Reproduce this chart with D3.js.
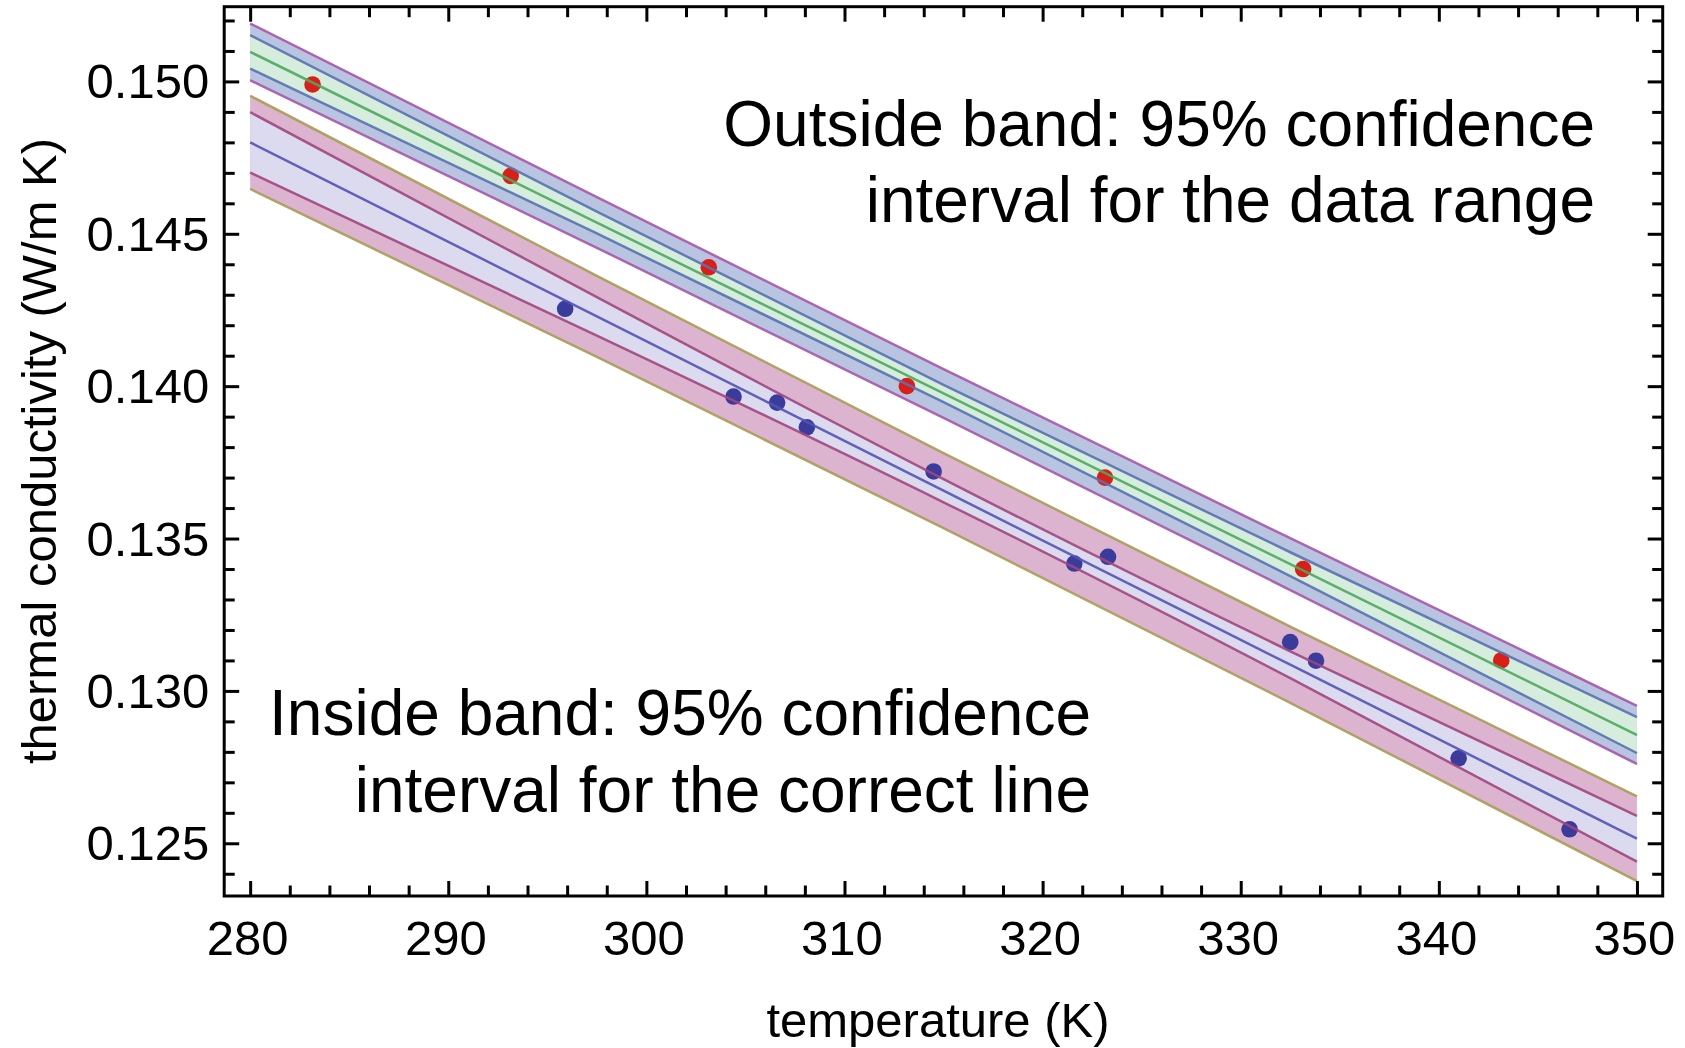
<!DOCTYPE html>
<html>
<head>
<meta charset="utf-8">
<script src="https://cdn.jsdelivr.net/npm/d3@7"></script>
<style>
  html, body { margin: 0; padding: 0; background: #fff; }
  svg { display: block; }
  text { font-family: "Liberation Sans", Arial, Helvetica, sans-serif; fill: #000; }
</style>
</head>
<body>
<svg id="chart" width="1685" height="1048"></svg>
<script>
// Measured thermal conductivity, dataset drawn in red (K, W/m K)
const redTemps = [283.15, 293.15, 303.15, 313.15, 323.15, 333.15, 343.15];
const redK     = [0.1499, 0.1469, 0.1439, 0.1400, 0.1370, 0.1340, 0.1310];

// Measured thermal conductivity, dataset drawn in blue
const blueTemps = [295.9, 304.4, 306.6, 308.1, 314.5, 321.6, 323.3, 332.5, 333.8, 341.0, 346.6];
const blueK     = [0.14254, 0.13966, 0.13946, 0.13865, 0.13720, 0.13418, 0.13440, 0.13160, 0.13099, 0.12779, 0.12546];

// Temperatures at which the fitted lines and bands are sampled
const bandTemps = [280, 297.5, 315, 332.5, 350];

// Red fit with its mean-confidence band and prediction band
const redFit    = [0.15097, 0.14537, 0.13976, 0.13416, 0.12855];
const redConfHi = [0.15152, 0.14573, 0.14004, 0.13455, 0.12914];
const redConfLo = [0.15042, 0.14501, 0.13948, 0.13377, 0.12796];
const redPredHi = [0.15190, 0.14620, 0.14056, 0.13501, 0.12951];
const redPredLo = [0.15004, 0.14454, 0.13896, 0.13331, 0.12760];

// Blue fit with its mean-confidence band and prediction band
const blueFit    = [0.14800, 0.14229, 0.13657, 0.13086, 0.12515];
const blueConfHi = [0.14899, 0.14292, 0.13695, 0.13130, 0.12590];
const blueConfLo = [0.14701, 0.14166, 0.13619, 0.13042, 0.12440];
const bluePredHi = [0.14953, 0.14362, 0.13780, 0.13211, 0.12654];
const bluePredLo = [0.14647, 0.14096, 0.13534, 0.12961, 0.12376];

// Axis ticks
const xMajorTicks = [280, 290, 300, 310, 320, 330, 340, 350];
const yMajorTicks = [0.125, 0.130, 0.135, 0.140, 0.145, 0.150];

const xTitle = "temperature (K)";
const yTitle = "thermal conductivity (W/m K)";
const outsideNote = ["Outside band: 95% confidence", "interval for the data range"];
const insideNote  = ["Inside band: 95% confidence", "interval for the correct line"];

// ---- layout ----
const frame = { left: 224.2, right: 1662.7, top: 6.7, bottom: 896 };
const svg = d3.select("#chart");

const x = d3.scaleLinear().domain([278.69, 351.30]).range([frame.left, frame.right]);
const y = d3.scaleLinear().domain([0.12327, 0.152452]).range([frame.bottom, frame.top]);

const xMinorTicks = d3.range(280, 351, 2).filter(t => !xMajorTicks.includes(t));
const yMinorTicks = d3.range(124, 153).map(v => v / 1000)
  .filter(v => !yMajorTicks.some(m => Math.abs(m - v) < 1e-9));

const plot = svg.append("g");
const clip = svg.append("clipPath").attr("id", "plotClip")
  .append("rect")
  .attr("x", frame.left).attr("y", frame.top)
  .attr("width", frame.right - frame.left).attr("height", frame.bottom - frame.top);
plot.attr("clip-path", "url(#plotClip)");

function band(hi, lo, fill) {
  const rows = bandTemps.map((t, i) => ({ t, hi: hi[i], lo: lo[i] }));
  plot.append("path")
    .datum(rows)
    .attr("fill", fill)
    .attr("d", d3.area()
      .curve(d3.curveNatural)
      .x(d => x(d.t)).y0(d => y(d.lo)).y1(d => y(d.hi)));
}

function line(vals, color, layer) {
  const rows = bandTemps.map((t, i) => ({ t, v: vals[i] }));
  layer.append("path")
    .datum(rows)
    .attr("fill", "none")
    .attr("stroke", color)
    .attr("stroke-width", 2.5)
    .attr("stroke-opacity", 0.9)
    .attr("d", d3.line().curve(d3.curveNatural).x(d => x(d.t)).y(d => y(d.v)));
}

// band fills
band(redPredHi, redPredLo, "#b9c4e1");
band(redConfHi, redConfLo, "#d6ecdc");
band(bluePredHi, bluePredLo, "#dcb4d0");
band(blueConfHi, blueConfLo, "#dbdaee");

// data points
plot.append("g").selectAll("circle")
  .data(redTemps.map((t, i) => [t, redK[i]]))
  .join("circle")
  .attr("cx", d => x(d[0])).attr("cy", d => y(d[1]))
  .attr("r", 8.3).attr("fill", "#d91f1a");

plot.append("g").selectAll("circle")
  .data(blueTemps.map((t, i) => [t, blueK[i]]))
  .join("circle")
  .attr("cx", d => x(d[0])).attr("cy", d => y(d[1]))
  .attr("r", 8.3).attr("fill", "#3b3b9c");

// band edges and fitted lines, drawn over the points
const lines = plot.append("g");
line(redPredHi, "#a657a8", lines);
line(redPredLo, "#a657a8", lines);
line(redConfHi, "#5872b0", lines);
line(redConfLo, "#5872b0", lines);
line(redFit, "#4da85e", lines);
line(bluePredHi, "#a89b55", lines);
line(bluePredLo, "#a89b55", lines);
line(blueConfHi, "#a0467f", lines);
line(blueConfLo, "#a0467f", lines);
line(blueFit, "#5353b3", lines);

// ---- frame ticks (pointing inward on all four sides) ----
const MAJOR = 15, MINOR = 10.5;
function ticks(axisFn, scale, values, size, transform, labels) {
  const g = svg.append("g").attr("transform", transform)
    .call(axisFn(scale).tickValues(values).tickSize(-size).tickSizeOuter(0)
      .tickFormat(labels ? labels : () => ""));
  g.select(".domain").remove();
  g.selectAll(".tick line").attr("stroke", "#000").attr("stroke-width", 3);
  return g;
}

ticks(d3.axisBottom, x, xMinorTicks, MINOR, `translate(0,${frame.bottom})`);
ticks(d3.axisTop, x, xMinorTicks, MINOR, `translate(0,${frame.top})`);
ticks(d3.axisTop, x, xMajorTicks, MAJOR, `translate(0,${frame.top})`);
ticks(d3.axisLeft, y, yMinorTicks, MINOR, `translate(${frame.left},0)`);
ticks(d3.axisRight, y, yMinorTicks, MINOR, `translate(${frame.right},0)`);
ticks(d3.axisRight, y, yMajorTicks, MAJOR, `translate(${frame.right},0)`);

const xAxis = ticks(d3.axisBottom, x, xMajorTicks, MAJOR, `translate(0,${frame.bottom})`, d3.format("d"));
xAxis.selectAll(".tick text")
  .attr("y", 59).attr("dy", null).attr("x", -3)
  .style("font-size", "49px").attr("font-family", null).attr("fill", "#000");

const yAxis = ticks(d3.axisLeft, y, yMajorTicks, MAJOR, `translate(${frame.left},0)`, d3.format(".3f"));
yAxis.selectAll(".tick text")
  .attr("x", -15).attr("dy", null).attr("y", 16.5)
  .style("font-size", "49px").attr("font-family", null).attr("fill", "#000");

svg.selectAll(".tick").attr("font-family", null).attr("font-size", null);

// frame
svg.append("rect")
  .attr("x", frame.left).attr("y", frame.top)
  .attr("width", frame.right - frame.left).attr("height", frame.bottom - frame.top)
  .attr("fill", "none").attr("stroke", "#000").attr("stroke-width", 3);

// axis titles
svg.append("text")
  .attr("x", 938).attr("y", 1037)
  .attr("text-anchor", "middle")
  .style("font-size", "49px")
  .text(xTitle);

svg.append("text")
  .attr("transform", "translate(56,451) rotate(-90)")
  .attr("text-anchor", "middle")
  .style("font-size", "49px")
  .text(yTitle);

// annotations
function note(linesText, xRight, baselines) {
  linesText.forEach((s, i) => {
    svg.append("text")
      .attr("x", xRight).attr("y", baselines[i])
      .attr("text-anchor", "end")
      .style("font-size", "64px")
      .text(s);
  });
}
note(outsideNote, 1595, [146, 222]);
note(insideNote, 1091, [735, 812]);
</script>
</body>
</html>
